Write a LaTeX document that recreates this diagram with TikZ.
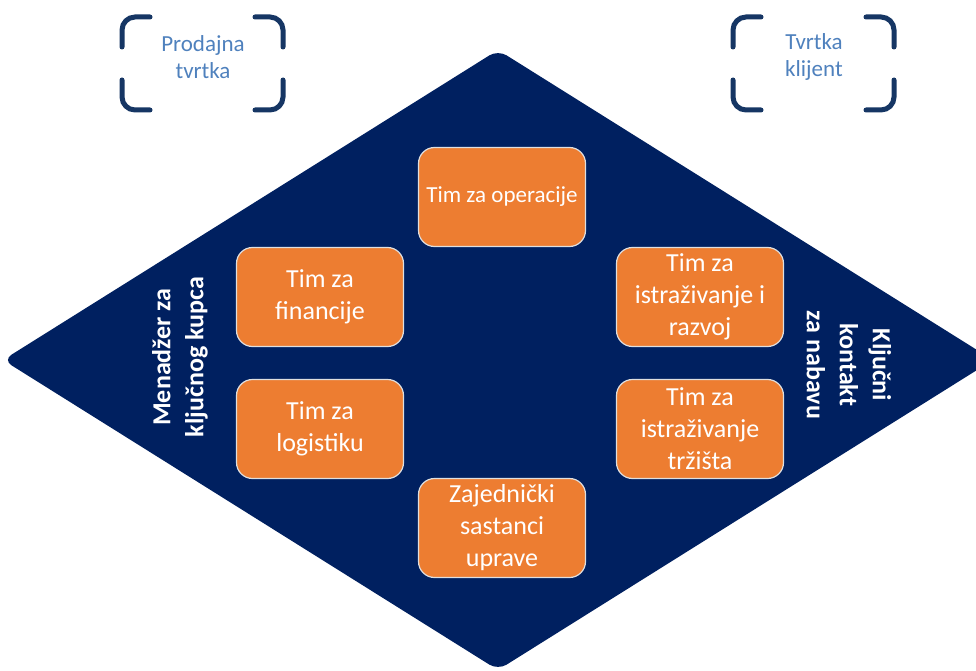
\documentclass[tikz,border=0pt]{standalone}
\usepackage{fontspec}
\setmainfont{Carlito}
\usetikzlibrary{positioning}
\definecolor{MyNavy}{RGB}{0,32,96}
\definecolor{MyOrange}{RGB}{237,125,49}
\definecolor{MyBracket}{RGB}{22,54,100}
\definecolor{MyLabel}{RGB}{79,129,189}
\tikzset{
  timbox/.style={fill=MyOrange, draw=white!75!gray, line width=1.2pt, rounded corners=16pt,
    minimum width=167pt, minimum height=99pt, text=white, align=center,
    font=\fontsize{26}{32}\selectfont},
  sidelabel/.style={text=white, align=center, font=\fontsize{26}{33}\selectfont\bfseries},
  firmlabel/.style={text=MyLabel, align=center, font=\fontsize{23}{27}\selectfont}
}

\begin{document}
\begin{tikzpicture}[x=1pt,y=-1pt]
    \useasboundingbox (0,0) rectangle (976,671);
    \begin{scope}
        \clip (0,0) rectangle (976,671);
        \fill[MyNavy, rounded corners=10pt] (3,360) -- (498,50) -- (993,360) -- (498,670) -- cycle;
    \end{scope}

%   brackets
    \foreach \x in {122,733} {
        \draw[MyBracket, line width=5pt, line cap=round, rounded corners=13pt] (\x+28,17) -- (\x,17) -- (\x,47);
        \draw[MyBracket, line width=5pt, line cap=round, rounded corners=13pt] (\x+133,17) -- (\x+161,17) -- (\x+161,47);
        \draw[MyBracket, line width=5pt, line cap=round, rounded corners=13pt] (\x,80) -- (\x,110) -- (\x+28,110);
        \draw[MyBracket, line width=5pt, line cap=round, rounded corners=13pt] (\x+161,80) -- (\x+161,110) -- (\x+133,110);
    }
    \node[firmlabel] (prodajna) at (203,57) {Prodajna\\tvrtka};
    \node[firmlabel] (klijent) at (814,57) {Tvrtka\\klijent};

%   tims
    \node[timbox, font=\fontsize{23}{28}\selectfont] (operacije) at (502,197) {Tim za operacije};
    \node[timbox] (financije) at (320,297) {Tim za\\financije};
    \node[timbox] (logistika) at (320,429) {Tim za\\logistiku};
    \node[timbox] (razvoj) at (700,297) {Tim za\\istraživanje i\\razvoj};
    \node[timbox] (trziste) at (700,429) {Tim za\\istraživanje\\tržišta};
    \node[timbox] (sastanci) at (502,528) {Zajednički\\sastanci\\uprave};

%   sides
    \node[sidelabel, rotate=90] (menadzer) at (180,357) {Menadžer za\\ključnog kupca};
    \node[sidelabel, rotate=-90] (kontakt) at (849,365) {Ključni\\kontakt\\za nabavu};
\end{tikzpicture}
\end{document}
